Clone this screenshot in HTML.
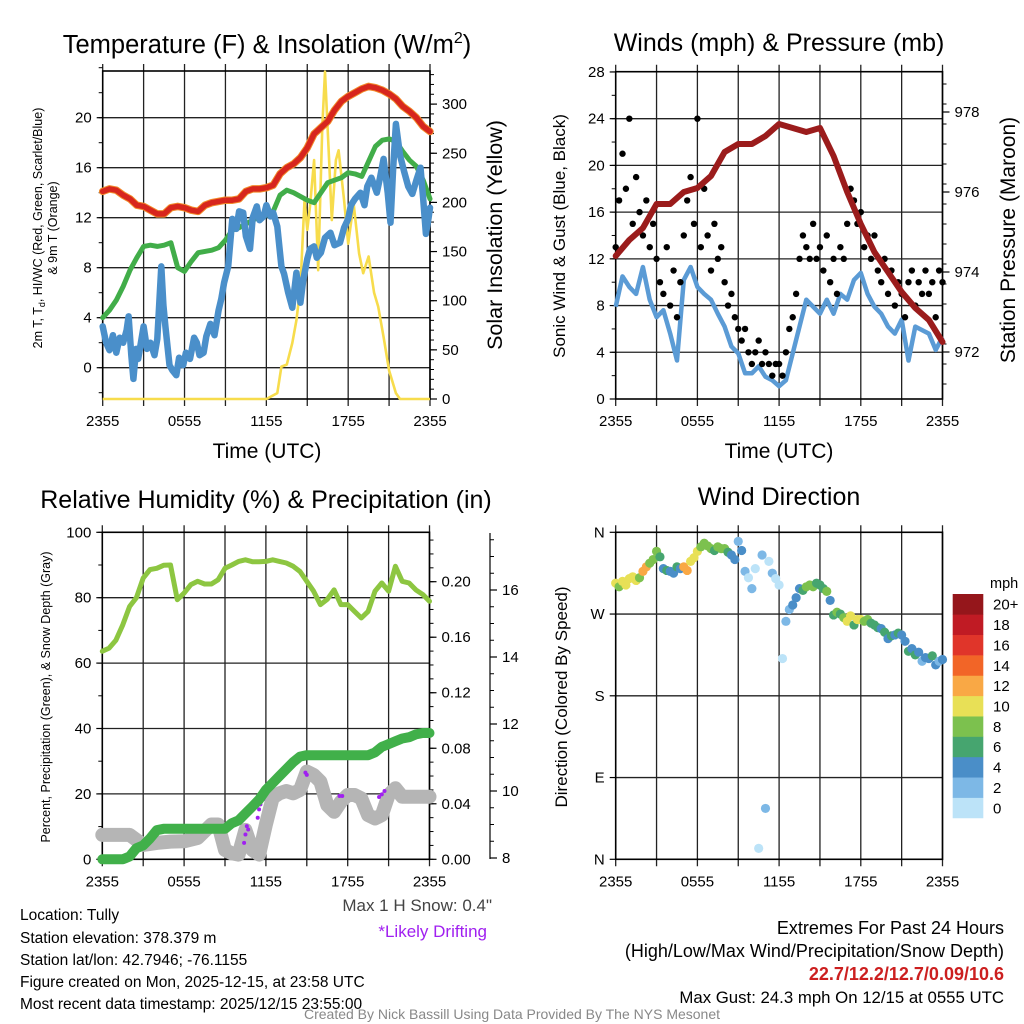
<!DOCTYPE html>
<html><head><meta charset="utf-8"><style>
html,body{margin:0;padding:0;background:#fff}
svg{display:block;font-family:"Liberation Sans",Arial,sans-serif}
</style></head><body>
<svg id="c" width="1024" height="1024" viewBox="0 0 1024 1024" xmlns="http://www.w3.org/2000/svg">
<rect width="1024" height="1024" fill="#fff"/>
<g id="g"></g>
<!-- titles -->
<text x="267" y="53" font-size="25.5" text-anchor="middle">Temperature (F) &amp; Insolation (W/m<tspan dy="-10" font-size="16">2</tspan><tspan dy="10">)</tspan></text>
<text x="779" y="51" font-size="25" text-anchor="middle">Winds (mph) &amp; Pressure (mb)</text>
<text x="266" y="508" font-size="25" text-anchor="middle">Relative Humidity (%) &amp; Precipitation (in)</text>
<text x="779" y="505" font-size="25" text-anchor="middle">Wind Direction</text>
<text x="267" y="458" font-size="21" text-anchor="middle">Time (UTC)</text>
<text x="779" y="458" font-size="21" text-anchor="middle">Time (UTC)</text>
<text transform="translate(42,228) rotate(-90)" font-size="12.5" text-anchor="middle">2m T, T<tspan dy="3" font-size="9">d</tspan><tspan dy="-3">, HI/WC (Red, Green, Scarlet/Blue)</tspan></text>
<text transform="translate(57,228) rotate(-90)" font-size="12.5" text-anchor="middle">&amp; 9m T (Orange)</text>
<text transform="translate(502,235) rotate(-90)" font-size="21.5" text-anchor="middle">Solar Insolation (Yellow)</text>
<text transform="translate(565,236) rotate(-90)" font-size="17" text-anchor="middle">Sonic Wind &amp; Gust (Blue, Black)</text>
<text transform="translate(1015,240) rotate(-90)" font-size="21" text-anchor="middle">Station Pressure (Maroon)</text>
<text transform="translate(50,697) rotate(-90)" font-size="12.5" text-anchor="middle">Percent, Precipitation (Green), &amp; Snow Depth (Gray)</text>
<text transform="translate(567,697) rotate(-90)" font-size="17" text-anchor="middle">Direction (Colored By Speed)</text>
<!-- footer -->
<g font-size="15.5">
<text x="20" y="920">Location: Tully</text>
<text x="20" y="943">Station elevation: 378.379 m</text>
<text x="20" y="965">Station lat/lon: 42.7946; -76.1155</text>
<text x="20" y="987">Figure created on Mon, 2025-12-15, at 23:58 UTC</text>
<text x="20" y="1009">Most recent data timestamp: 2025/12/15 23:55:00</text>
</g>
<text x="492" y="911" font-size="17" fill="#444" text-anchor="end">Max 1 H Snow: 0.4"</text>
<text x="487" y="937" font-size="17" fill="#a020f0" text-anchor="end">*Likely Drifting</text>
<g font-size="18" text-anchor="end">
<text x="1004" y="934">Extremes For Past 24 Hours</text>
<text x="1004" y="957">(High/Low/Max Wind/Precipitation/Snow Depth)</text>
<text x="1004" y="980" fill="#cc1f1f" font-weight="bold">22.7/12.2/12.7/0.09/10.6</text>
<text x="1004" y="1003" font-size="16.8">Max Gust: 24.3 mph On 12/15 at 0555 UTC</text>
</g>
<text x="512" y="1019" font-size="14" fill="#888" text-anchor="middle">Created By Nick Bassill Using Data Provided By The NYS Mesonet</text>
</svg>
<script>
// ---------- data ----------
const xTickLabels=["2355","0555","1155","1755","2355"];
const xTickHours=[0,6,12,18,24];
// temperature panel (half-hourly)
const airTemp=[14.1,14.3,14.2,13.8,13.5,13.0,12.9,12.6,12.3,12.3,12.8,12.9,12.8,12.6,12.5,13.0,13.2,13.3,13.4,13.4,13.5,14.1,14.3,14.3,14.4,14.6,15.5,16.0,16.3,16.8,17.6,18.7,19.2,19.7,20.6,21.3,21.7,22.0,22.3,22.5,22.4,22.2,21.9,21.5,20.9,20.5,20.0,19.3,18.9];
const dewPoint=[4.0,4.6,5.4,6.5,7.8,8.8,9.7,9.8,9.7,9.8,10.0,8.0,7.7,8.5,9.2,9.3,9.4,9.6,10.2,11.0,11.2,11.5,11.8,12.1,12.2,12.5,13.8,14.2,14.0,13.7,13.4,13.2,14.0,14.8,15.0,15.2,15.6,15.5,15.3,16.5,17.7,18.2,18.3,18.1,17.3,16.6,16.1,15.0,13.5];
const windChillHours=[0,0.25,0.5,0.75,1,1.25,1.5,1.75,1.9,2.1,2.25,2.45,2.6,2.8,3.0,3.25,3.5,3.8,4.0,4.3,4.45,4.6,4.9,5.1,5.4,5.6,5.9,6.1,6.4,6.7,6.9,7.1,7.4,7.6,7.9,8.2,8.5,8.7,8.9,9.2,9.5,9.8,10.0,10.3,10.5,10.8,11.0,11.3,11.5,11.8,12.0,12.3,12.5,12.8,13.1,13.3,13.6,13.9,14.2,14.5,14.7,15.0,15.2,15.5,15.7,16.0,16.3,16.7,17.0,17.4,17.7,18.0,18.2,18.5,18.9,19.2,19.4,19.7,20.1,20.3,20.6,20.9,21.1,21.3,21.5,21.8,22.1,22.4,22.7,23.0,23.3,23.5,23.7,23.9,24];
const windChill=[3.3,2.0,1.4,2.6,1.2,2.4,2.0,3.0,4.1,1.0,-0.9,1.5,0.7,2.0,3.3,1.5,2.0,1.0,2.3,8.1,5.0,3.3,0.2,-0.2,-0.6,0.8,0.2,1.2,0.7,2.4,2.0,1.0,1.2,2.5,3.5,2.6,4.6,5.5,6.8,8.1,11.9,11.1,12.5,12.4,10.5,9.5,12.0,12.9,11.8,12.1,13.0,12.1,12.4,11.3,8.1,7.5,6.0,4.8,7.6,5.2,7.0,8.7,9.5,9.7,8.8,9.2,10.4,10.8,9.8,10.0,11.2,11.9,13.0,13.5,14.0,13.0,14.5,15.2,14.0,15.0,16.7,14.0,11.6,16.0,19.5,17.0,15.7,14.5,13.9,15.0,16.0,13.5,10.7,12.0,12.8];
const solarHours=[0,12.0,12.8,13.1,13.5,13.9,14.2,14.5,14.8,15.0,15.2,15.5,15.8,16.1,16.3,16.6,16.8,17.1,17.3,17.7,18.0,18.4,18.8,19.1,19.5,19.9,20.2,20.6,21.0,21.5,21.8,24];
const solar=[0,0,6,33,35,57,80,114,202,172,196,243,131,277,333,243,182,243,253,202,158,199,148,128,145,108,94,63,29,6,0,0];
// winds panel
const windSpeed=[7.9,10.5,9.6,9.0,11.3,8.5,7.0,7.6,5.6,3.3,10.2,11.3,9.6,9.0,8.5,7.3,6.2,4.5,3.9,2.2,2.2,2.8,1.9,1.6,1.1,1.6,3.9,6.2,8.5,7.9,7.3,8.5,7.3,9.0,8.5,10.2,10.8,9.0,7.9,7.3,6.2,5.6,6.8,3.3,6.2,5.9,5.6,4.2,5.3];
const gusts=[13,17,21,18,24,15,19,16,14,17,13,15,12,10,9,13,8,11,7,10,14,17,19,15,24,13,18,14,11,15,12,13,10,8,9,7,6,5,6,4,3,4,5,3,4,3,2,3,3,2,4,6,7,9,12,14,13,12,15,12,13,11,14,10,12,9,13,12,15,18,17,15,16,13,14,12,14,11,10,12,9,11,8,10,9,7,10,11,8,10,9,11,9,10,7,11,10];
const pressure=[974.4,974.8,975.1,975.7,975.7,976.0,976.1,976.4,977.0,977.2,977.2,977.4,977.7,977.6,977.5,977.6,976.9,976.0,975.2,974.5,974.0,973.5,973.1,972.8,972.25];
// humidity panel
const relHum=[63.6,64.6,67,71.7,77.3,80,86,88.6,89,89.9,90,79.4,81.4,84,85,84.2,84.2,85.5,89,90,91.1,91.6,91,91,91.1,91.6,91.1,90.6,89.6,88,85,82,77.9,79.5,82.4,77.9,77.9,75.8,73.8,75.8,82,84.5,82,89.6,85,84.5,82.4,81,78.9];
const precip=[0,0,0,0,0.002,0.008,0.010,0.015,0.021,0.022,0.022,0.022,0.022,0.022,0.022,0.022,0.022,0.022,0.022,0.026,0.028,0.033,0.038,0.043,0.050,0.055,0.060,0.065,0.070,0.074,0.075,0.075,0.075,0.075,0.075,0.075,0.075,0.075,0.075,0.075,0.077,0.081,0.083,0.085,0.087,0.088,0.090,0.091,0.091];
const snowHours=[0,1,2,3,4,5,6,7,8,8.5,9,9.5,10,10.5,11,11.5,12,12.5,13,13.5,14,14.5,15,15.5,16,16.5,17,17.5,18,18.5,19,19.5,20,20.5,21,21.5,22,23,24];
const snowDepth=[8.69,8.69,8.69,8.39,8.45,8.49,8.5,8.6,9.0,9.0,8.24,8.14,8.1,8.84,8.24,8.1,9.0,9.8,9.93,10.0,9.93,10.03,10.58,10.48,10.28,9.58,9.38,9.68,9.88,9.88,9.78,9.28,9.18,9.28,9.88,10.08,9.83,9.83,9.83];
const driftHours=[10.4,10.5,10.6,10.7,11.4,11.5,11.6,11.8,12.0,12.2,14.9,15.0,17.4,17.6,20.3,20.5,20.7];
const driftDepth=[8.45,8.7,8.95,8.85,9.2,9.45,9.6,9.75,9.95,10.05,10.55,10.48,9.85,9.85,9.82,9.9,10.0];
// wind direction panel (15-min)
const windDir=[304,300,306,302,309,311,307,310,317,322,326,330,339,333,320,318,317,315,322,320,322,318,328,332,339,344,348,345,342,340,344,342,342,338,335,330,350,340,317,310,298,320,12,335,56,328,315,309,302,221,262,275,280,288,298,296,300,302,300,304,302,298,295,285,269,272,270,266,262,268,258,264,264,262,264,260,258,255,254,250,243,246,247,249,247,240,229,232,225,228,218,222,221,224,214,218,220];
const dirSpeed=[10,9,10,11,10,10,11,9,12,13,8,9,8,7,5,6,4,5,6,5,12,13,10,11,10,9,8,8,9,7,8,9,8,6,4,5,3,4,2,1,2,1,1,3,2,1,2,1,0,1,2,3,4,5,4,6,8,9,8,7,7,6,8,5,6,9,7,8,10,11,7,10,11,9,8,7,6,7,5,6,4,7,5,6,5,4,6,5,6,4,3,5,4,6,5,3,4];
const speedBinLabels=["0","2","4","6","8","10","12","14","16","18","20+"];
const speedBinColors=["#bce3f8","#7db8e6","#4a8ec8","#46a56f","#7cc14e","#e8e056","#f9a845","#f26527","#e0352a","#c01b24","#95161b"];

// ---------- helpers ----------
const NS="http://www.w3.org/2000/svg";
const root=document.getElementById('g');
function el(tag,attrs,parent){const e=document.createElementNS(NS,tag);for(const k in attrs)e.setAttribute(k,attrs[k]);(parent||root).appendChild(e);return e;}
function txt(x,y,s,size,anchor,parent){const t=el('text',{x:x,y:y,'font-size':size,'text-anchor':anchor||'middle'},parent);t.textContent=s;return t;}
function pathD(xs,ys,xf,yf){let d='';for(let i=0;i<xs.length;i++){d+=(i?'L':'M')+xf(xs[i]).toFixed(1)+','+yf(ys[i]).toFixed(1);}return d;}
function idxHours(n,step){const a=[];for(let i=0;i<n;i++)a.push(i*step);return a;}
function frame(x0,x1,y0,y1,yGridVals,yf,name){
  const g=el('g',{});
  
  
  for(let h=0;h<=24;h+=3){const x=x0+(x1-x0)*h/24;el('line',{x1:x,y1:y0-7,x2:x,y2:y1+7,stroke:'#222','stroke-width':1.3},g);}
  yGridVals.forEach(v=>{const y=yf(v);el('line',{x1:x0,y1:y,x2:x1,y2:y,stroke:'#222','stroke-width':1.3},g);});
  const b=el('rect',{x:x0,y:y0,width:x1-x0,height:y1-y0,fill:'none',stroke:'#000','stroke-width':1.6});
  
  
  xTickHours.forEach((h,i)=>{const t=txt(x0+(x1-x0)*h/24,y1+27,xTickLabels[i],15);
    
    });
  return g;
}
function yAxis(x,yf,vals,labels,major,minorVals,side,size,name){
  const g=el('g',{});
  
  
  const dir=side==='left'?-1:1;
  minorVals.forEach(v=>{const y=yf(v);el('line',{x1:x,y1:y,x2:x+dir*4,y2:y,stroke:'#000','stroke-width':1},g);});
  vals.forEach((v,i)=>{const y=yf(v);el('line',{x1:x,y1:y,x2:x+dir*major,y2:y,stroke:'#000','stroke-width':1.2},g);
    txt(x+dir*(major+5),y+5,labels[i],size||15,side==='left'?'end':'start',g);});
  return g;
}
function range(a,b,s){const r=[];for(let v=a;v<=b+1e-9;v+=s)r.push(+v.toFixed(4));return r;}

// ---------- panel 1: temperature ----------
(function(){
  const x0=102.7,x1=430,y0=71,y1=399;
  const xf=h=>x0+(x1-x0)*h/24;
  const yT=v=>367.7-v*12.5;
  const yS=v=>399-v*0.983;
  frame(x0,x1,y0,y1,[0,4,8,12,16,20],yT,'temperature');
  const tv=[0,4,8,12,16,20];
  yAxis(x0,yT,tv,tv.map(String),6,range(-2,24,2),'left',15,'temperature-y-axis');
  const sv=[0,50,100,150,200,250,300];
  yAxis(x1,yS,sv,sv.map(String),7,range(0,330,10),'right',15,'solar-y-axis');
  const hh=idxHours(49,0.5);
  let p;
  p=el('path',{d:pathD(solarHours,solar,xf,yS),fill:'none',stroke:'#f7dc4c','stroke-width':2.6,'stroke-linejoin':'round'});
  
  
  p=el('path',{d:pathD(hh,dewPoint,xf,yT),fill:'none',stroke:'#41ad49','stroke-width':5,'stroke-linejoin':'round','stroke-linecap':'round'});
  
  
  p=el('path',{d:pathD(windChillHours,windChill,xf,yT),fill:'none',stroke:'#4a8fca','stroke-width':6.5,'stroke-linejoin':'round','stroke-linecap':'round'});
  
  
  p=el('path',{d:pathD(hh,airTemp,xf,yT),fill:'none',stroke:'#f28a2a','stroke-width':7.5,'stroke-linejoin':'round','stroke-linecap':'round'});
  
  
  p=el('path',{d:pathD(hh,airTemp,xf,yT),fill:'none',stroke:'#d7261e','stroke-width':5.5,'stroke-linejoin':'round','stroke-linecap':'round'});
  
  
})();

// ---------- panel 2: winds ----------
(function(){
  const x0=615.7,x1=942.5,y0=71.7,y1=399;
  const xf=h=>x0+(x1-x0)*h/24;
  const yW=v=>399-v*11.68;
  const yP=v=>352-(v-972)*40;
  frame(x0,x1,y0,y1,[4,8,12,16,20,24],yW,'winds');
  const wv=[0,4,8,12,16,20,24,28];
  yAxis(x0,yW,wv,wv.map(String),6,range(0,28,2),'left',15,'wind-y-axis');
  const pv=[972,974,976,978];
  yAxis(x1,yP,pv,pv.map(String),7,range(971.2,979,0.5).filter(v=>yP(v)>=y0&&yP(v)<=y1),'right',15,'pressure-y-axis');
  let p=el('path',{d:pathD(idxHours(49,0.5),windSpeed,xf,yW),fill:'none',stroke:'#5b9bd5','stroke-width':4.5,'stroke-linejoin':'round'});
  
  
  const gh=idxHours(97,0.25);
  gusts.forEach((v,i)=>{const c=el('circle',{cx:xf(gh[i]),cy:yW(v),r:3.2,fill:'#000'});
    
    });
  p=el('path',{d:pathD(idxHours(25,1),pressure,xf,yP),fill:'none',stroke:'#9b1c1c','stroke-width':6,'stroke-linejoin':'round','stroke-linecap':'round'});
  
  
})();

// ---------- panel 3: humidity ----------
(function(){
  const x0=102.3,x1=429.5,y0=532.3,y1=859.3;
  const xf=h=>x0+(x1-x0)*h/24;
  const yR=v=>859.3-v*3.27;
  const yPr=v=>859.3-v*1388;
  const ySn=v=>858-(v-8)*33.5;
  frame(x0,x1,y0,y1,[20,40,60,80],yR,'humidity');
  const rv=[0,20,40,60,80,100];
  yAxis(x0,yR,rv,rv.map(String),6,range(0,100,10),'left',15,'humidity-y-axis');
  const prv=[0,0.04,0.08,0.12,0.16,0.2];
  yAxis(x1,yPr,prv,prv.map(v=>v.toFixed(2)),7,range(0,0.23,0.01).filter(v=>yPr(v)>=y0),'right',15,'precip-y-axis');
  const ax=el('line',{x1:490,y1:533,x2:490,y2:859,stroke:'#000','stroke-width':1.2});
  
  
  const snv=[8,10,12,14,16];
  yAxis(490,ySn,snv,snv.map(String),7,range(8,17.6,0.5).filter(v=>ySn(v)>=534),'right',15,'snow-y-axis');
  let p=el('path',{d:pathD(snowHours,snowDepth,xf,ySn),fill:'none',stroke:'#b5b5b5','stroke-width':14,'stroke-linejoin':'round','stroke-linecap':'round'});
  
  
  driftHours.forEach((h,i)=>{const c=el('circle',{cx:xf(h),cy:ySn(driftDepth[i]),r:2,fill:'#a020f0'});
    
    });
  p=el('path',{d:pathD(idxHours(49,0.5),precip,xf,yPr),fill:'none',stroke:'#41b04a','stroke-width':10,'stroke-linejoin':'round','stroke-linecap':'round'});
  
  
  p=el('path',{d:pathD(idxHours(49,0.5),relHum,xf,yR),fill:'none',stroke:'#8dc641','stroke-width':5,'stroke-linejoin':'round','stroke-linecap':'round'});
  
  
})();

// ---------- panel 4: wind direction ----------
(function(){
  const x0=615.7,x1=942.5,y0=532.3,y1=859.3;
  const xf=h=>x0+(x1-x0)*h/24;
  const yD=v=>859.3-v*(y1-y0)/360;
  frame(x0,x1,y0,y1,[90,180,270],yD,'direction');
  const dv=[0,90,180,270,360];
  yAxis(x0,yD,dv,['N','E','S','W','N'],6,[],'left',15,'direction-y-axis');
  const dh=idxHours(97,0.25);
  windDir.forEach((d,i)=>{const b=Math.min(10,Math.floor(dirSpeed[i]/2));
    const c=el('circle',{cx:xf(dh[i]),cy:yD(d),r:4.6,fill:speedBinColors[b]});
    
    });
  const cb=el('g',{});
  
  
  const top=594,bh=20.36;
  speedBinColors.forEach((col,i)=>{const y=top+(10-i)*bh;
    el('rect',{x:952.7,y:y,width:30.6,height:bh+0.3,fill:col},cb);
    txt(993,y+bh/2+5.5,speedBinLabels[i],15,'start',cb);});
  const m=txt(990,588,'mph',14.5,'start',cb);
  
  
})();
</script>
</body></html>
